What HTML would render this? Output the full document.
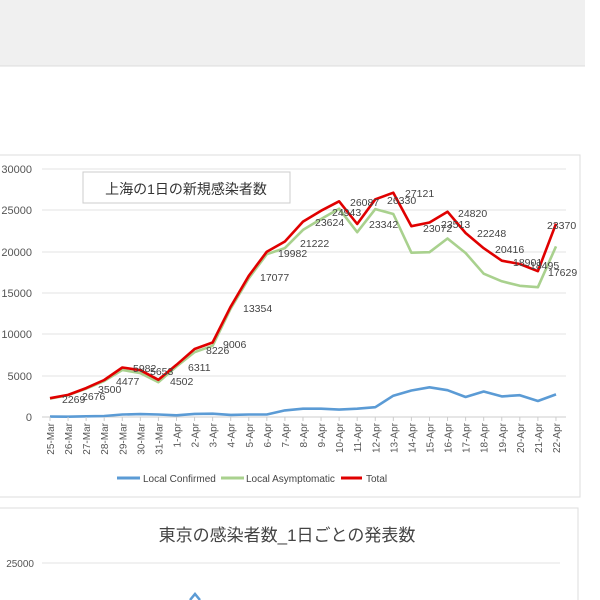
<!DOCTYPE html>
<html><head><meta charset="utf-8"><style>
body{margin:0;width:600px;height:600px;overflow:hidden;background:#fff;font-family:"Liberation Sans","Noto Sans CJK JP",sans-serif}
</style></head><body>
<svg width="600" height="600" xmlns="http://www.w3.org/2000/svg" style="position:absolute;left:0;top:0">
<rect x="0" y="0" width="585" height="66" fill="#f0f0f0"/>
<line x1="0" y1="66" x2="585" y2="66" stroke="#ddd"/>
<rect x="-2" y="155" width="582" height="342" fill="#fff" stroke="#ddd"/>
<g stroke="#e3e3e3" stroke-width="1">
<line x1="42" y1="169" x2="566" y2="169"/><line x1="42" y1="210" x2="566" y2="210"/>
<line x1="42" y1="252" x2="566" y2="252"/><line x1="42" y1="293" x2="566" y2="293"/>
<line x1="42" y1="334" x2="566" y2="334"/><line x1="42" y1="376" x2="566" y2="376"/>
</g>
<line x1="42" y1="417" x2="566" y2="417" stroke="#ccc"/>
<g font-size="11" fill="#555" text-anchor="end">
<text x="32" y="173">30000</text><text x="32" y="214">25000</text><text x="32" y="256">20000</text>
<text x="32" y="297">15000</text><text x="32" y="338">10000</text><text x="32" y="380">5000</text><text x="32" y="421">0</text>
</g>
<rect x="83" y="172" width="207" height="31" fill="#fff" stroke="#ccc"/>
<text x="186" y="194" font-size="14" text-anchor="middle" fill="#333">上海の1日の新規感染者数</text>
<g id="chart"></g>
<g font-size="10" fill="#444">
<line x1="117" y1="478" x2="140" y2="478" stroke="#5b9bd5" stroke-width="3"/><text x="143" y="482">Local Confirmed</text>
<line x1="221" y1="478" x2="244" y2="478" stroke="#a9d18e" stroke-width="3"/><text x="246" y="482">Local Asymptomatic</text>
<line x1="341" y1="478" x2="362" y2="478" stroke="#e00000" stroke-width="3"/><text x="366" y="482">Total</text>
</g>
<rect x="-2" y="508" width="580" height="100" fill="#fff" stroke="#ddd"/>
<text x="287" y="541" font-size="17" text-anchor="middle" fill="#444">東京の感染者数_1日ごとの発表数</text>
<text x="34" y="567" font-size="10" text-anchor="end" fill="#555">25000</text>
<line x1="42" y1="563" x2="560" y2="563" stroke="#e3e3e3"/>
<polyline points="190,600 195,594 200,600" fill="none" stroke="#5b9bd5" stroke-width="2.5"/>
</svg>
<script>
var tot=[2269,2676,3500,4477,5982,5653,4502,6311,8226,9006,13354,17077,19982,21222,23624,24943,26087,23342,26330,27121,23072,23513,24820,22248,20416,18901,18495,17629,23370];
var conf=[50,40,80,120,300,350,300,200,380,400,250,300,300,800,1000,1000,900,1000,1189,2573,3200,3590,3238,2417,3084,2494,2634,1931,2736];
var labels=["25-Mar","26-Mar","27-Mar","28-Mar","29-Mar","30-Mar","31-Mar","1-Apr","2-Apr","3-Apr","4-Apr","5-Apr","6-Apr","7-Apr","8-Apr","9-Apr","10-Apr","11-Apr","12-Apr","13-Apr","14-Apr","15-Apr","16-Apr","17-Apr","18-Apr","19-Apr","20-Apr","21-Apr","22-Apr"];
var lp=[[62,399],[82,396],[98,389],[116,381],[133,368],[150,371],[170,381],[188,367],[206,350],[223,344],[243,308],[260,277],[278,253],[300,243],[315,222],[332,212],[350,202],[369,224],[387,200],[405,193],[423,228],[441,224],[458,213],[477,233],[495,249],[513,262],[530,265],[548,272],[547,225]];
function X(i){return 50+i*18.07}function Y(v){return 417-v*0.00827}
var g=document.getElementById('chart'),h='';
function pl(a,c){return '<polyline fill="none" stroke="'+c+'" stroke-width="2.6" stroke-linejoin="round" points="'+a.map(function(v,i){return X(i).toFixed(1)+','+Y(v).toFixed(1)}).join(' ')+'"/>';}
h+=pl(conf,'#5b9bd5');h+=pl(tot.map(function(v,i){return v-conf[i]}),'#a9d18e');h+=pl(tot,'#e00000');
for(var i=0;i<29;i++){h+='<line x1="'+X(i)+'" y1="417" x2="'+X(i)+'" y2="421" stroke="#ccc"/>';
h+='<text transform="translate('+(X(i)+4)+',423) rotate(-90)" font-size="10" fill="#555" text-anchor="end">'+labels[i]+'</text>';
h+='<text x="'+lp[i][0]+'" y="'+(lp[i][1]+4)+'" font-size="10.5" fill="#444">'+tot[i]+'</text>';}
g.innerHTML=h;
</script>
</body></html>
